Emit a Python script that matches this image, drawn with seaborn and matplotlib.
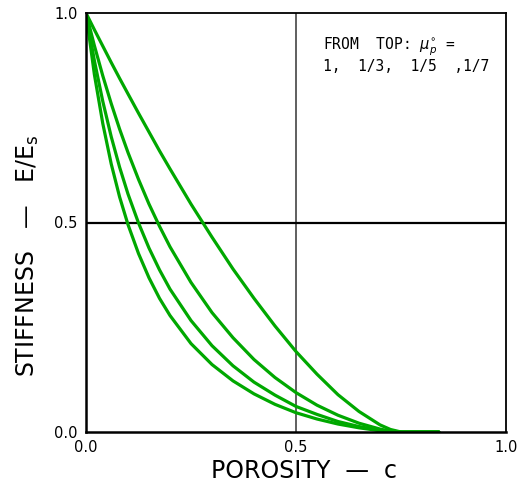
import numpy as np
import pandas as pd
import matplotlib
matplotlib.use("Agg")
import matplotlib.pyplot as plt
import seaborn as sns

# Porosity values at which the stiffness curves are tabulated
porosity = [0.0, 0.02, 0.04, 0.06, 0.08, 0.10, 0.125, 0.15, 0.175, 0.20,
            0.25, 0.30, 0.35, 0.40, 0.45, 0.50, 0.55, 0.60, 0.65, 0.70,
            0.725, 0.75, 0.84]

# Relative stiffness E/Es for each pore-shape parameter (from top to bottom)
stiff_mu_1 = [1.000, 0.960, 0.921, 0.882, 0.844, 0.807, 0.761, 0.716, 0.671, 0.628,
              0.544, 0.465, 0.389, 0.319, 0.253, 0.192, 0.138, 0.089, 0.049, 0.017,
              0.006, 0.000, 0.000]
stiff_mu_1_3 = [1.000, 0.922, 0.850, 0.784, 0.723, 0.667, 0.603, 0.544, 0.491, 0.442,
                0.357, 0.285, 0.225, 0.173, 0.130, 0.094, 0.064, 0.040, 0.021, 0.007,
                0.002, 0.000, 0.000]
stiff_mu_1_5 = [1.000, 0.886, 0.789, 0.705, 0.632, 0.568, 0.499, 0.439, 0.387, 0.341,
                0.266, 0.206, 0.158, 0.119, 0.088, 0.061, 0.042, 0.025, 0.013, 0.004,
                0.002, 0.000, 0.000]
stiff_mu_1_7 = [1.000, 0.853, 0.736, 0.640, 0.561, 0.495, 0.426, 0.368, 0.319, 0.278,
                0.211, 0.161, 0.122, 0.091, 0.066, 0.046, 0.031, 0.019, 0.010, 0.003,
                0.001, 0.000, 0.000]

series = {"1": stiff_mu_1, "1/3": stiff_mu_1_3, "1/5": stiff_mu_1_5, "1/7": stiff_mu_1_7}
frames = [pd.DataFrame({"porosity": porosity, "stiffness": vals, "mu": key})
          for key, vals in series.items()]
df = pd.concat(frames, ignore_index=True)

x_ticks = [0.0, 0.5, 1.0]
tick_labels = ["0.0", "0.5", "1.0"]

sns.set_style("white")
plt.rcParams["font.family"] = ["DejaVu Sans"]

fig = plt.figure(figsize=(5.23, 4.87), dpi=100)
ax = fig.add_axes([86 / 523, 55 / 487, 420 / 523, 419 / 487])

green = "#00a800"
sns.lineplot(data=df, x="porosity", y="stiffness", units="mu", estimator=None,
             color=green, linewidth=2.3, ax=ax, legend=False)

# reference lines through the centre of the plot
ax.axvline(0.5, color="#444444", linewidth=1.2, zorder=1)
ax.axhline(0.5, color="black", linewidth=1.6, zorder=1)

ax.set_xlim(0, 1)
ax.set_ylim(0, 1)
ax.set_xticks(x_ticks)
ax.set_xticklabels(tick_labels)
ax.set_yticks(x_ticks)
ax.set_yticklabels(tick_labels)
ax.tick_params(axis="both", direction="inout", length=8, width=1.3,
               labelsize=10.5, color="black", labelcolor="black", pad=2)

for side in ["left", "bottom", "top", "right"]:
    ax.spines[side].set_visible(True)
    ax.spines[side].set_color("black")
ax.spines["left"].set_linewidth(1.8)
ax.spines["bottom"].set_linewidth(1.8)
ax.spines["top"].set_linewidth(1.3)
ax.spines["right"].set_linewidth(1.3)

ax.set_xlabel("POROSITY  —  c", fontsize=17, color="black")
ax.xaxis.set_label_coords(0.52, -0.065)
ax.set_ylabel("STIFFNESS   —   E/E$_\\mathregular{s}$", fontsize=17, color="black")
ax.yaxis.set_label_coords(-0.108, 0.42)

ax.text(0.565, 0.945, "FROM  TOP: $\\mu_p^{\\circ}$ =\n1,  1/3,  1/5  ,1/7",
        transform=ax.transAxes, fontsize=10.5, family="DejaVu Sans Mono",
        ha="left", va="top", linespacing=1.05, color="black")

fig.savefig("out.png", dpi=100, facecolor="white")
